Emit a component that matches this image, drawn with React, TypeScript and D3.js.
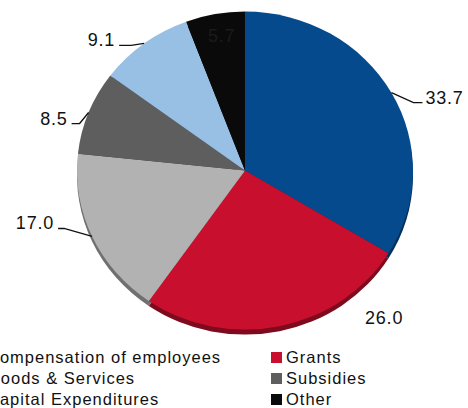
import React from "react";
import * as d3 from "d3";

const categories = ["Compensation of employees", "Grants", "Goods & Services", "Subsidies", "Capital Expenditures", "Other"];
const values = [33.7, 26.0, 17.0, 8.5, 9.1, 5.7];
const labels = ["33.7", "26.0", "17.0", "8.5", "9.1", "5.7"];
const colors = ["#054a8c", "#c8102e", "#b2b2b2", "#5e5e5e", "#98c0e4", "#0a0a0a"];

const W = 468, H = 408;
const cx = 245, cy = 170.6, rx = 168, ry = 159, depth = 5;

// label placement: elbow offset, horizontal length, text anchor; "free" = no leader
const labelLayout: any[] = [
  { kind: "leader", ex: 22, ey: 10, h: 9, anchor: "start" },
  { kind: "free", x: 365, y: 324 },
  { kind: "leader", ex: -28, ey: -8, h: -6, anchor: "end" },
  { kind: "leader", ex: -9, ey: 11, h: -8, anchor: "end" },
  { kind: "leader", ex: -13, ey: 2, h: -12, anchor: "end" },
  { kind: "free", x: 208, y: 42 },
];

export default function App() {
  const pie = d3.pie<number>().value((d) => d).sort(null)(values);
  const arc = d3.arc<any>().innerRadius(0).outerRadius(rx);
  const sy = ry / rx;
  const edge = (a: number) => [cx + rx * Math.sin(a), cy - ry * Math.cos(a)];

  return (
    <svg width={W} height={H} style={{ position: "absolute", left: 0, top: 0, fontFamily: "'Liberation Sans', Arial, sans-serif" }}>
      <g transform={`translate(${cx},${cy + depth}) scale(1,${sy})`}>
        {pie.map((p, i) => (
          <path key={"s" + i} d={arc(p) as string} fill={d3.color(colors[i])!.darker(1.3).toString()} />
        ))}
      </g>
      <g transform={`translate(${cx},${cy}) scale(1,${sy})`}>
        {pie.map((p, i) => (
          <path key={"t" + i} d={arc(p) as string} fill={colors[i]} />
        ))}
      </g>
      {pie.map((p, i) => {
        const L = labelLayout[i];
        const mid = (p.startAngle + p.endAngle) / 2;
        if (L.kind === "free") {
          return (
            <text key={"l" + i} x={L.x} y={L.y} fontSize={18} letterSpacing={0.8} fill={i === 5 ? "#1b1b1b" : "#111"}>
              {labels[i]}
            </text>
          );
        }
        const [x0, y0] = edge(mid);
        const x1 = x0 + L.ex, y1 = y0 + L.ey, x2 = x1 + L.h;
        const tx = L.anchor === "start" ? x2 + 3 : x2 - 4;
        return (
          <g key={"l" + i}>
            <polyline points={`${x0},${y0} ${x1},${y1} ${x2},${y1}`} fill="none" stroke="#111" strokeWidth={1.3} />
            <text x={tx} y={y1 + 1} fontSize={18} letterSpacing={0.8} textAnchor={L.anchor} fill="#111">
              {labels[i]}
            </text>
          </g>
        );
      })}
      {categories.map((c, i) => {
        const col = i % 2, row = Math.floor(i / 2);
        const tx = col === 0 ? -13 : 286;
        const by = 363 + row * 21;
        return (
          <g key={"lg" + i}>
            <rect x={tx - 15} y={by - 11} width={11} height={11} fill={colors[i]} />
            <text x={tx} y={by} fontSize={16.5} letterSpacing={1} fill="#111">{c}</text>
          </g>
        );
      })}
    </svg>
  );
}
